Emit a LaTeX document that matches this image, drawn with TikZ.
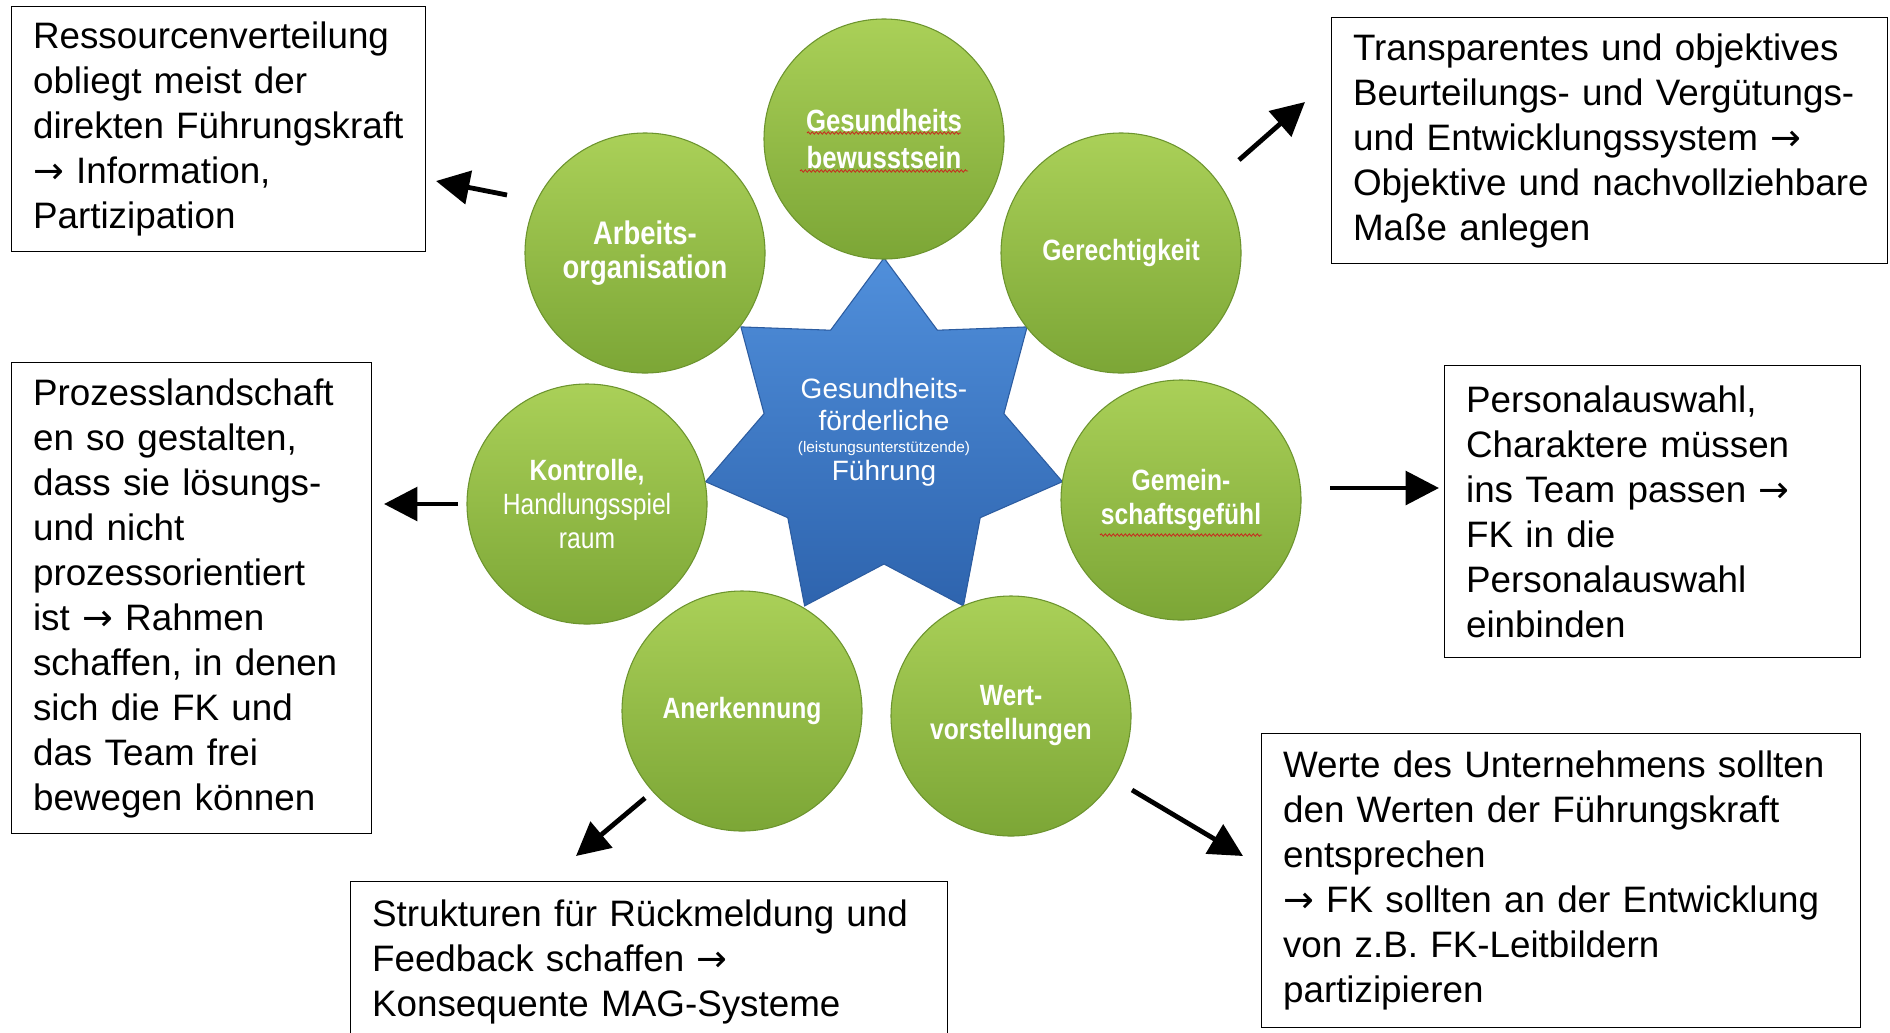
\documentclass[tikz,border=0pt]{standalone}
\usepackage{fontspec}
\setmainfont{Liberation Sans}
\newfontfamily\circfont[FakeStretch=0.84]{Liberation Sans}
\newfontfamily\arrowfont{DejaVu Sans}
\newcommand{\farr}{{\arrowfont →}}
\usetikzlibrary{arrows.meta,decorations.pathmorphing}
\definecolor{cgtop}{RGB}{170,208,88}
\definecolor{cgbot}{RGB}{124,166,54}
\definecolor{cgedge}{RGB}{108,148,46}
\definecolor{sttop}{RGB}{80,143,219}
\definecolor{stbot}{RGB}{46,100,174}
\definecolor{stedge}{RGB}{44,92,160}
\definecolor{squig}{RGB}{200,40,30}
\begin{document}
\begin{tikzpicture}[x=0.75pt,y=-0.75pt,
  txtbox/.style={draw=black, line width=1.1pt, fill=white, anchor=north west, align=left,
    inner xsep=16pt, inner ysep=0pt, font=\fontsize{27.6}{33.75}\selectfont},
  circ/.style={circle, minimum size=180pt, inner sep=0pt, top color=cgtop, bottom color=cgbot,
    draw=cgedge, line width=0.8pt, text=white, align=center,
    font=\circfont\bfseries\fontsize{22}{25.5}\selectfont},
  pointer/.style={line width=3.6pt, -{Triangle[length=25pt,width=25pt]}},
  squiggle/.style={draw=squig, line width=0.6pt, decorate, decoration={snake, amplitude=0.9pt, segment length=3pt}},
  starshape/.style={top color=sttop, bottom color=stbot, draw=stedge, line width=0.8pt}
]
\path[use as bounding box, fill=white] (0,0) rectangle (1890,1032);

% central star
\path[starshape] (884,258) -- (830.6,330.2) -- (740.9,326.9) -- (764.1,413.6) -- (705.6,481.7)
  -- (787.8,517.7) -- (804.6,605.9) -- (884,564) -- (963.4,605.9) -- (980.2,517.7)
  -- (1062.4,481.7) -- (1003.9,413.6) -- (1027.1,326.9) -- (937.4,330.2) -- cycle;
\node[text=white, align=center, font=\fontsize{21}{24}\selectfont] (ctr) at (884,432)
  {Gesundheits-\\förderliche\\[-7.5pt]{\fontsize{11.5}{14}\selectfont (leistungsunterstützende)}\\[-3pt]Führung};

% circles
\node[circ, font=\circfont\bfseries\fontsize{23}{27.75}\selectfont] (c1) at (884,139) {Gesundheits\\bewusstsein};
\node[circ, font=\circfont\bfseries\fontsize{24.5}{25.5}\selectfont] (c2) at (645,253) {Arbeits-\\organisation};
\node[circ] (c3) at (1121,253) {Gerechtigkeit};
\node[circ, font=\circfont\fontsize{22}{25.5}\selectfont] (c4) at (587,504) {{\bfseries Kontrolle,}\\Handlungsspiel\\raum};
\node[circ] (c5) at (1181,500) {Gemein-\\schaftsgefühl};
\node[circ] (c6) at (742,711) {Anerkennung};
\node[circ] (c7) at (1011,716) {Wert-\\vorstellungen};

% spell-check marks
\draw[squiggle] (807,133) -- (961,133);
\draw[squiggle] (800,171) -- (968,171);
\draw[squiggle] (1100,535) -- (1262,535);

% text boxes
\node[txtbox, text width=278.5pt, minimum height=183.75pt] (b1) at (11,6)
  {\mbox{Ressourcenverteilung}\\\mbox{obliegt meist der}\\\mbox{direkten Führungskraft}\\\mbox{\farr{} Information,}\\\mbox{Partizipation}};
\node[txtbox, text width=385pt, minimum height=184.5pt] (b2) at (1331,17)
  {\mbox{Transparentes und objektives}\\\mbox{Beurteilungs- und Vergütungs-}\\\mbox{und Entwicklungssystem \farr}\\\mbox{Objektive und nachvollziehbare}\\\mbox{Maße anlegen}};
\node[txtbox, text width=238pt, minimum height=353.25pt] (b3) at (11,362)
  {\mbox{Prozesslandschaft}\\\mbox{en so gestalten,}\\\mbox{dass sie lösungs-}\\\mbox{und nicht}\\\mbox{prozessorientiert}\\\mbox{ist \farr{} Rahmen}\\\mbox{schaffen, in denen}\\\mbox{sich die FK und}\\\mbox{das Team frei}\\\mbox{bewegen können}};
\node[txtbox, text width=280pt, minimum height=219pt] (b4) at (1444,365)
  {\mbox{Personalauswahl,}\\\mbox{Charaktere müssen}\\\mbox{ins Team passen \farr}\\\mbox{FK in die}\\\mbox{Personalauswahl}\\\mbox{einbinden}};
\node[txtbox, text width=417.25pt, minimum height=220.5pt] (b5) at (1261,733)
  {\mbox{Werte des Unternehmens sollten}\\\mbox{den Werten der Führungskraft}\\\mbox{entsprechen}\\\mbox{\farr{} FK sollten an der Entwicklung}\\\mbox{von z.B. FK-Leitbildern}\\\mbox{partizipieren}};
\node[txtbox, text width=415.75pt, minimum height=120pt] (b6) at (350,881)
  {\mbox{Strukturen für Rückmeldung und}\\\mbox{Feedback schaffen \farr}\\\mbox{Konsequente MAG-Systeme}};

% arrows
\coordinate (a1s) at (507,195); \coordinate (a1e) at (436,181);
\coordinate (a2s) at (1239,160); \coordinate (a2e) at (1305,102);
\coordinate (a3s) at (458,504); \coordinate (a3e) at (384,504);
\coordinate (a4s) at (1330,488); \coordinate (a4e) at (1439,488);
\coordinate (a5s) at (645,798); \coordinate (a5e) at (576,856);
\coordinate (a6s) at (1132,790); \coordinate (a6e) at (1243,856);
\draw[pointer] (a1s) -- (a1e);
\draw[pointer] (a2s) -- (a2e);
\draw[pointer] (a3s) -- (a3e);
\draw[pointer] (a4s) -- (a4e);
\draw[pointer] (a5s) -- (a5e);
\draw[pointer] (a6s) -- (a6e);
\end{tikzpicture}
\end{document}
